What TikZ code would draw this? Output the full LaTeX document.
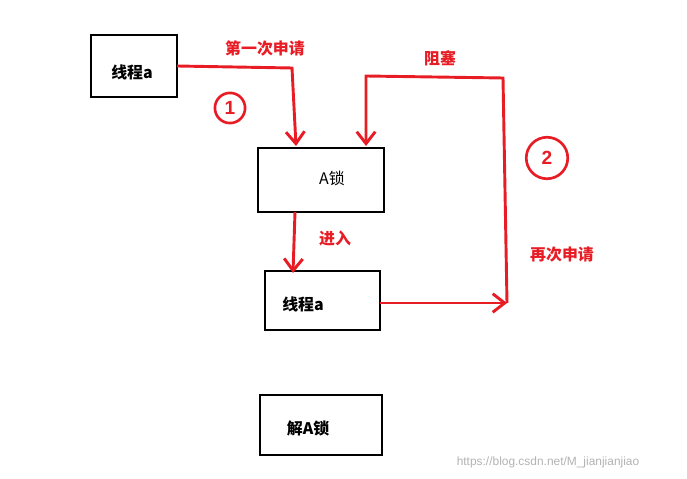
\documentclass[tikz,border=0pt]{standalone}
\usepackage{fontspec}
\newfontfamily\cjk{Noto Sans CJK SC}
\setmainfont{Liberation Sans}
\usetikzlibrary{positioning,arrows.meta}
\definecolor{penred}{RGB}{232,28,36}
\tikzset{
  lockbox/.style={draw=black,line width=2.2pt},
  redline/.style={draw=penred,line width=2.2pt,-{Straight Barb[length=9pt,width=14pt]}},
  redlabel/.style={text=penred,font=\cjk\large\bfseries},
  boxtext/.style={font=\cjk\large\bfseries},
  numring/.style={circle,draw=penred,line width=2pt,text=penred,font=\Large\bfseries},
}
\begin{document}
\begin{tikzpicture}[x=0.0265cm,y=-0.0265cm]
\useasboundingbox (0,0) rectangle (687,479);
\draw[lockbox] (91,35) rectangle (177,97);
\draw[lockbox] (258,148) rectangle (384,212);
\draw[lockbox] (265,271) rectangle (380,330);
\draw[lockbox] (260,395) rectangle (382,455);
\node[boxtext] (t1) at (132,72) {线程a};
\node[font=\cjk\large] (lockA) at (332,178) {A锁};
\node[boxtext] (t2) at (303,304) {线程a};
\node[boxtext] (unlock) at (308,428) {解A锁};
% connectors
\coordinate (t1out) at (177,66);
\coordinate (bend1) at (292,68);
\coordinate (lockin1) at (296,146);
\coordinate (lockout) at (295,212);
\coordinate (t2in) at (293,273);
\coordinate (t2out) at (380,303);
\coordinate (retry) at (507,303);
\coordinate (upper) at (503,78);
\coordinate (back) at (366,76);
\coordinate (lockin2) at (366,146);
\draw[redline] (t1out) -- (bend1) -- (lockin1);
\draw[redline] (lockout) -- (t2in);
\draw[redline] (t2out) -- (retry);
\draw[redline] (retry) -- (upper) -- (back) -- (lockin2);
\node[redlabel] (first) at (265,48) {第一次申请};
\node[redlabel] (enter) at (335,238) {进入};
\node[redlabel] (block) at (440,58) {阻塞};
\node[redlabel] (again) at (562,255) {再次申请};
\node[numring,minimum size=0.8cm] (one) at (230,108) {1};
\node[numring,minimum size=1.1cm] (two) at (547,158) {2};
\node[text=gray!60,font=\small] (mark) at (548,462) {https://blog.csdn.net/M\_jianjianjiao};
\end{tikzpicture}
\end{document}
